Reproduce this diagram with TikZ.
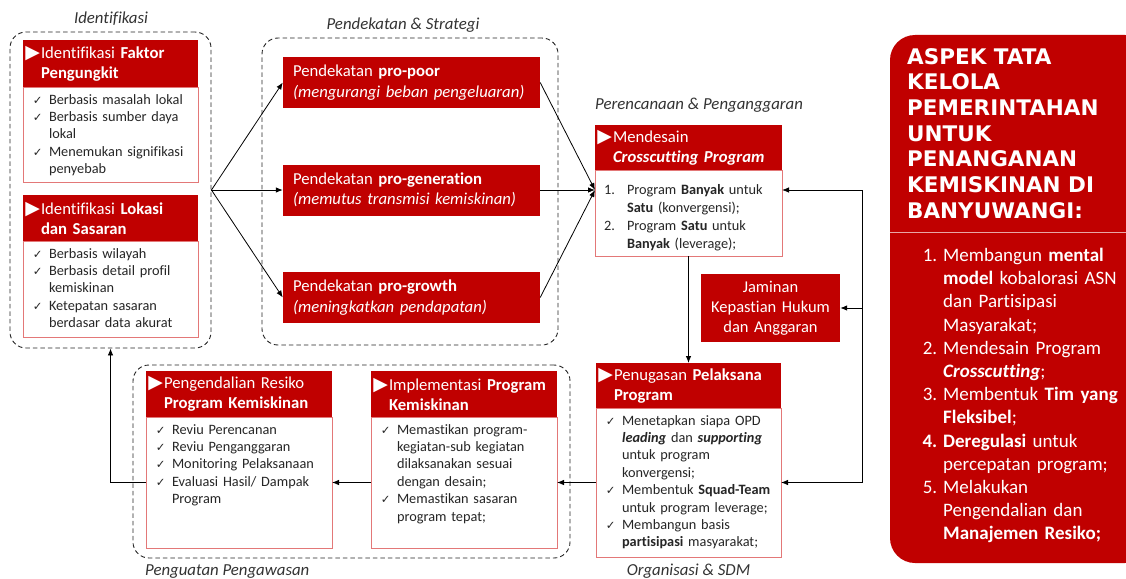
\documentclass[tikz,border=0pt]{standalone}
\usepackage{fontspec}
\setmainfont{Carlito}[Ligatures=NoCommon]
\newfontfamily\simbolo{DejaVu Sans}
\usetikzlibrary{arrows.meta, positioning}
\definecolor{merahTua}{HTML}{C00000}
\definecolor{merahMuda}{HTML}{E37878}
\definecolor{merahGaris}{HTML}{E8A6A6}

\newcommand{\tri}[1]{\leftskip=18pt\relax\leavevmode\llap{{\simbolo\fontsize{19}{19}\selectfont ▶}\hspace{1pt}}#1\par}
\newcommand{\cek}[1]{\leftskip=26pt\relax\leavevmode\llap{{\simbolo\fontsize{11.5}{11.5}\selectfont ✓}\hspace{6.5pt}}#1\par}
\newcommand{\nomor}[2]{\leftskip=32pt\relax\leavevmode\llap{#1\hspace{12pt}}#2\par}
\newcommand{\butir}[2]{\leftskip=53pt\relax\leavevmode\llap{#1\hspace{6pt}}#2\par}

\begin{document}
\begin{tikzpicture}[x=1pt, y=-1pt,
    kepala/.style={rectangle, fill=merahTua, text=white, align=left, text width=#1, minimum height=46pt, inner xsep=0pt, inner ysep=0pt, outer sep=0pt, font=\fontsize{16.7}{20}\selectfont},
    kepala/.default=186pt,
    isi/.style={rectangle, draw=merahMuda, line width=0.9pt, fill=white, text=black!85, align=left, text width=#1, text height=11pt, inner xsep=0pt, inner ysep=6pt, outer sep=0pt, font=\fontsize{14.3}{17.4}\selectfont},
    isi/.default=186pt,
    pendekatan/.style={rectangle, fill=merahTua, text=white, align=left, text width=237pt, minimum height=51pt, inner xsep=10pt, font=\fontsize{16.7}{20.5}\selectfont},
    kelompok/.style={rectangle, draw=black!85, line width=0.9pt, dash pattern=on 4.5pt off 3pt, rounded corners=16pt},
    keterangan/.style={font=\fontsize{16.8}{20}\selectfont\itshape, text=black!80, inner sep=0pt},
    panah/.style={-{Latex[length=7pt, width=5.5pt]}, line width=0.8pt},
    garis/.style={line width=0.8pt}
]
    \useasboundingbox (0,0) rectangle (1126,578);
    \clip (0,0) rectangle (1126,578);

    % kelompok bertitik
    \node[kelompok, minimum width=201pt, minimum height=316pt] (gIdent) at (110.5,190) {};
    \node[kelompok, minimum width=296pt, minimum height=307pt] (gDekat) at (410,191.5) {};
    \node[kelompok, minimum width=437pt, minimum height=193pt] (gAwas) at (351.5,461.5) {};

    \node[keterangan, anchor=base] (lblIdent) at (111,24) {Identifikasi};
    \node[keterangan, anchor=base] (lblDekat) at (403,29.5) {Pendekatan \& Strategi};
    \node[keterangan, anchor=base west] (lblAwas) at (145,575) {Penguatan Pengawasan};

    % identifikasi
    \node[kepala=175pt, minimum height=47pt] (faktorH) at (110.5,63.5) {\tri{Identifikasi \textbf{Faktor}\\ \textbf{Pengungkit}}};
    \node[isi=175pt, text depth=72pt, below=0pt of faktorH] (faktorB) {\cek{Berbasis masalah lokal}\cek{Berbasis sumber daya\\ lokal}\cek{Menemukan signifikasi\\ penyebab}};
    \node[kepala=175pt] (lokasiH) at (110.5,218) {\tri{Identifikasi \textbf{Lokasi}\\ \textbf{dan Sasaran}}};
    \node[isi=175pt, text depth=73pt, below=0pt of lokasiH] (lokasiB) {\cek{Berbasis wilayah}\cek{Berbasis detail profil\\ kemiskinan}\cek{Ketepatan sasaran\\ berdasar data akurat}};

    % pendekatan
    \node[pendekatan] (poor) at (411.5,82.5) {Pendekatan \textbf{pro-poor}\\ \textit{(mengurangi beban pengeluaran)}};
    \node[pendekatan] (gen) at (411.5,190) {Pendekatan \textbf{pro-generation}\\ \textit{(memutus transmisi kemiskinan)}};
    \node[pendekatan] (growth) at (411.5,297.5) {Pendekatan \textbf{pro-growth}\\ \textit{(meningkatkan pendapatan)}};

    % perencanaan
    \node[kepala=187pt, minimum height=45pt] (mendH) at (688.5,147.5) {\tri{Mendesain\\ \textbf{\textit{Crosscutting Program}}}};
    \node[isi=187pt, text height=18pt, text depth=56pt, font=\fontsize{14.3}{18.3}\selectfont, below=0pt of mendH] (mendB) {\nomor{1.}{Program \textbf{Banyak} untuk\\ \textbf{Satu} (konvergensi);}\nomor{2.}{Program \textbf{Satu} untuk\\ \textbf{Banyak} (leverage);}};
    \node[keterangan, anchor=base west] (lblRencana) at (595,109) {Perencanaan \& Penganggaran};

    \node[rectangle, fill=merahTua, text=white, align=center, text width=139pt, minimum height=68pt, inner xsep=0pt, font=\fontsize{16.5}{20}\selectfont] (jaminan) at (770.5,308) {Jaminan\\ Kepastian Hukum\\ dan Anggaran};

    % organisasi
    \node[kepala=185pt, minimum height=45pt] (pelH) at (688.5,385.5) {\tri{Penugasan \textbf{Pelaksana}\\ \textbf{Program}}};
    \node[isi=185pt, text depth=126pt, below=0pt of pelH] (pelB) {\cek{Menetapkan siapa OPD\\ \textbf{\textit{leading}} dan \textbf{\textit{supporting}}\\ untuk program\\ konvergensi;}\cek{Membentuk \textbf{Squad-Team}\\ untuk program leverage;}\cek{Membangun basis\\ \textbf{partisipasi} masyarakat;}};
    \node[keterangan, anchor=base] (lblSdm) at (688.5,575) {Organisasi \& SDM};

    % pengawasan
    \node[kepala] (implH) at (464,394) {\tri{Implementasi \textbf{Program}\\ \textbf{Kemiskinan}}};
    \node[isi, text depth=108pt, below=0pt of implH] (implB) {\cek{Memastikan program-\\ kegiatan-sub kegiatan\\ dilaksanakan sesuai\\ dengan desain;}\cek{Memastikan sasaran\\ program tepat;}};
    \node[kepala] (pengH) at (239,394) {\tri{Pengendalian Resiko\\ \textbf{Program Kemiskinan}}};
    \node[isi, text depth=108pt, below=0pt of pengH] (pengB) {\cek{Reviu Perencanan}\cek{Reviu Penganggaran}\cek{Monitoring Pelaksanaan}\cek{Evaluasi Hasil/ Dampak\\ Program}};

    % panel aspek
    \node[rectangle, fill=merahTua, rounded corners=25pt, minimum width=260pt, minimum height=528pt] (aspek) at (1020,299) {};
    \draw[merahGaris, line width=1pt] (890,232) -- (1126,232);
    \node[anchor=north west, align=left, inner sep=0pt, text=white, font=\simbolo\bfseries\fontsize{21.5}{25.7}\selectfont] (judulAspek) at (907,48) {ASPEK TATA\\ KELOLA\\ PEMERINTAHAN\\ UNTUK\\ PENANGANAN\\ KEMISKINAN DI\\ BANYUWANGI:};
    \node[anchor=north west, align=left, text width=236pt, inner sep=0pt, text=white, font=\fontsize{19}{23.2}\selectfont] (daftarAspek) at (890,248) {\butir{1.}{Membangun \textbf{mental}\\ \textbf{model} kobalorasi ASN\\ dan Partisipasi\\ Masyarakat;}\butir{2.}{Mendesain Program\\ \textbf{\textit{Crosscutting}};}\butir{3.}{Membentuk \textbf{Tim yang}\\ \textbf{Fleksibel};}\butir{\textbf{4.}}{\textbf{Deregulasi} untuk\\ percepatan program;}\butir{5.}{Melakukan\\ Pengendalian dan\\ \textbf{Manajemen Resiko;}}};

    % panah
    \coordinate (masuk) at (gen.east -| mendB.west);
    \coordinate (loopA) at (862,190);
    \coordinate (loopB) at (862,482.5);
    \draw[panah] (gIdent.east) -- (poor.west);
    \draw[panah] (gIdent.east) -- (gen.west);
    \draw[panah] (gIdent.east) -- (growth.west);
    \draw[panah] (poor.east) -- (masuk);
    \draw[panah] (gen.east) -- (masuk);
    \draw[panah] (growth.east) -- (masuk);
    \draw[panah] (mendB.south) -- (pelH.north);
    \draw[garis] (loopA) -- (loopB);
    \draw[panah] (loopA) -- (loopA -| mendB.east);
    \draw[panah] (loopA |- jaminan.east) -- (jaminan.east);
    \draw[panah] (loopB) -- (pelB.east);
    \draw[panah] (pelB.west) -- (implB.east);
    \draw[panah] (implB.west) -- (pengB.east);
    \draw[panah] (pengB.west) -| (gIdent.south);
\end{tikzpicture}
\end{document}
